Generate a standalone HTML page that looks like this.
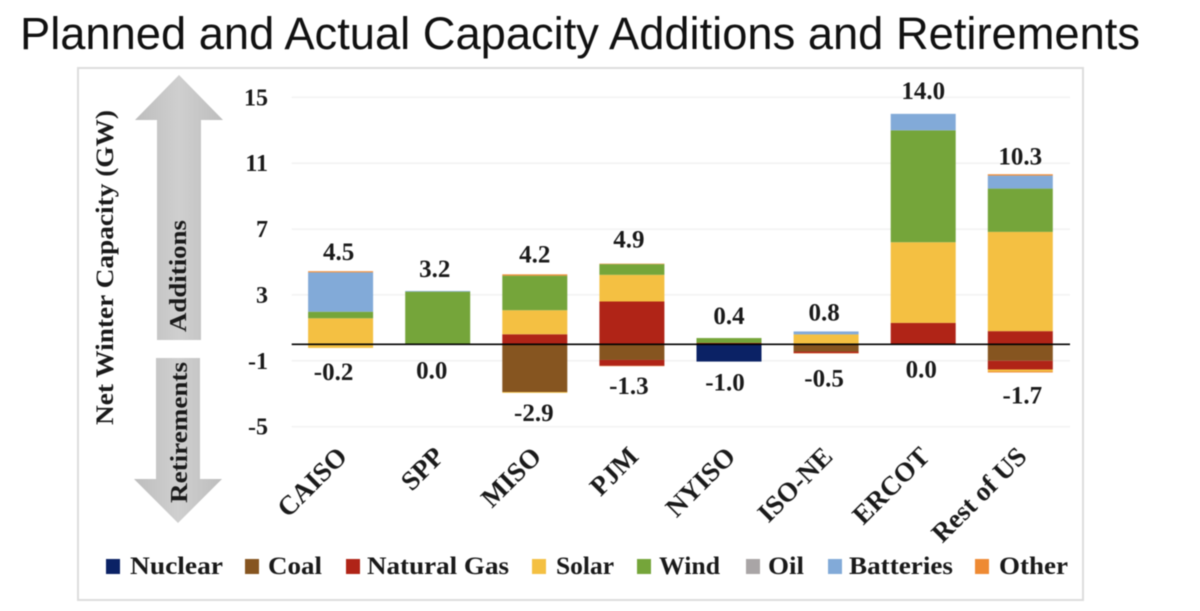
<!DOCTYPE html>
<html lang="en">
<head>
<meta charset="utf-8">
<title>Planned and Actual Capacity Additions and Retirements</title>
<style>
html,body{margin:0;padding:0;background:#fff;width:1200px;height:611px;overflow:hidden}
svg{display:block;filter:blur(0.45px)}
text{font-family:"Liberation Serif",serif;fill:#1a1a1a}
.tick,.val,.cat,.leg,.ttl{font-weight:bold}
.tick{font-size:24px}
.val{font-size:25px}
.cat{font-size:27px}
.leg{font-size:25px}
</style>
</head>
<body>
<svg id="chart" width="1200" height="611" viewBox="0 0 1200 611" xmlns="http://www.w3.org/2000/svg">
  <defs>
    <linearGradient id="arrowFill" x1="0" y1="0" x2="1" y2="0">
      <stop offset="0" stop-color="#bdbdbd"/><stop offset="0.5" stop-color="#cfcfcf"/><stop offset="1" stop-color="#bdbdbd"/>
    </linearGradient>
  </defs>
  <rect width="1200" height="611" fill="#fff"/>
  <text x="20" y="49" font-size="45" textLength="1120" lengthAdjust="spacingAndGlyphs" style='font-family:"Liberation Sans",sans-serif;fill:#111'>Planned and Actual Capacity Additions and Retirements</text>
  <rect x="78" y="68" width="1005" height="532" fill="#fff" stroke="#dcdcdc" stroke-width="2"/>
  <g id="grid"></g>
  <polygon points="179,75 223,120 201,120 201,340 157,340 157,120 135,120" fill="url(#arrowFill)"/>
  <polygon points="156,358 200,358 200,479 222,479 178,523 134,479 156,479" fill="url(#arrowFill)"/>
  <text transform="translate(186,332) rotate(-90)" font-size="24" font-weight="bold" textLength="112" lengthAdjust="spacingAndGlyphs">Additions</text>
  <text transform="translate(187,503) rotate(-90)" font-size="24" font-weight="bold" textLength="141" lengthAdjust="spacingAndGlyphs">Retirements</text>
  <text class="ttl" transform="translate(113,425) rotate(-90)" font-size="25" textLength="315" lengthAdjust="spacingAndGlyphs">Net Winter Capacity (GW)</text>
  <g id="ticks"></g>
  <g id="bars"></g>
  <g id="values"></g>
  <g id="cats"></g>
  <line id="zero" stroke="#000" stroke-width="1.6"/>
  <g>
    <g><rect x="106" y="559" width="14" height="15" fill="#0b2265"/><text class="leg" x="130" y="574" textLength="93" lengthAdjust="spacingAndGlyphs">Nuclear</text></g>
    <g><rect x="245" y="559" width="14" height="15" fill="#865520"/><text class="leg" x="268" y="574" textLength="54" lengthAdjust="spacingAndGlyphs">Coal</text></g>
    <g><rect x="346" y="559" width="14" height="15" fill="#b02417"/><text class="leg" x="367" y="574" textLength="142" lengthAdjust="spacingAndGlyphs">Natural Gas</text></g>
    <g><rect x="532" y="559" width="14" height="15" fill="#f4c042"/><text class="leg" x="556" y="574" textLength="58" lengthAdjust="spacingAndGlyphs">Solar</text></g>
    <g><rect x="637" y="559" width="14" height="15" fill="#75a53a"/><text class="leg" x="659" y="574" textLength="61" lengthAdjust="spacingAndGlyphs">Wind</text></g>
    <g><rect x="746" y="559" width="14" height="15" fill="#a9a5a6"/><text class="leg" x="768" y="574" textLength="36" lengthAdjust="spacingAndGlyphs">Oil</text></g>
    <g><rect x="828" y="559" width="14" height="15" fill="#82aad8"/><text class="leg" x="849" y="574" textLength="104" lengthAdjust="spacingAndGlyphs">Batteries</text></g>
    <g><rect x="975" y="559" width="14" height="15" fill="#ee8a33"/><text class="leg" x="999" y="574" textLength="69" lengthAdjust="spacingAndGlyphs">Other</text></g>
  </g>
</svg>
<script>
// Data (GW)
const categories = ['CAISO','SPP','MISO','PJM','NYISO','ISO-NE','ERCOT','Rest of US'];
const tickValues = [15,11,7,3,-1,-5];
const gasAdd       = [0,    0,    0.61, 2.60, 0.08, 0,    1.30, 0.80];
const solarAdd     = [1.58, 0,    1.46, 1.62, 0,    0.60, 4.90, 6.03];
const windAdd      = [0.40, 3.20, 2.10, 0.65, 0.30, 0,    6.80, 2.63];
const batteriesAdd = [2.39, 0.04, 0,    0,    0,    0.18, 1.00, 0.79];
const otherAdd     = [0.07, 0,    0.08, 0.03, 0,    0,    0,    0.08];
const nuclearRet   = [0,    0,    0,    0,    1.05, 0,    0,    0];
const coalRet      = [0,    0,    2.90, 0.95, 0,    0.44, 0,    1.00];
const gasRet       = [0,    0,    0,    0.36, 0,    0.10, 0,    0.53];
const solarRet     = [0.22, 0,    0.05, 0,    0,    0,    0,    0.12];
const otherRet     = [0,    0,    0,    0.02, 0,    0.02, 0,    0.06];
const additionLabels   = ['4.5','3.2','4.2','4.9','0.4','0.8','14.0','10.3'];
const retirementLabels = ['-0.2','0.0','-2.9','-1.3','-1.0','-0.5','0.0','-1.7'];

// Layout
const NS = 'http://www.w3.org/2000/svg';
const zeroY = 344.3, pxPerGW = 16.46, firstX = 340.6, stepX = 97.1, barW = 65, plotL = 291.7, plotR = 1070;
const yScale = v => zeroY - v * pxPerGW;
const xScale = i => firstX + i * stepX;
const stackUp = [
  {key:'gas', values:gasAdd, color:'#b02417'},
  {key:'solar', values:solarAdd, color:'#f4c042'},
  {key:'wind', values:windAdd, color:'#75a53a'},
  {key:'batteries', values:batteriesAdd, color:'#82aad8'},
  {key:'other', values:otherAdd, color:'#ee8a33'}
];
const stackDown = [
  {key:'nuclear', values:nuclearRet, color:'#0b2265'},
  {key:'coal', values:coalRet, color:'#865520'},
  {key:'gas', values:gasRet, color:'#b02417'},
  {key:'solar', values:solarRet, color:'#f4c042'},
  {key:'other', values:otherRet, color:'#ee8a33'}
];
// Hand-placed label offsets seen in the source chart
const topGap = [19,22,20,24,22,19,23,18];
const bottomGap = [24,26,20,20,21,25,25,23];
const topShift = [-2,-3,0,-3,0,-2,0,0];
const bottomShift = [-7,-6,-1,-3,-4,-2,-2,2];

function make(tag, parent, text) {
  const el = document.createElementNS(NS, tag);
  if (text !== undefined) el.textContent = text;
  parent.appendChild(el);
  return el;
}

const grid = document.getElementById('grid');
const ticks = document.getElementById('ticks');
tickValues.forEach(v => {
  const line = make('line', grid);
  
  
  line.setAttribute('x1', plotL);
  line.setAttribute('x2', plotR);
  line.setAttribute('y1', yScale(v));
  line.setAttribute('y2', yScale(v));
  line.setAttribute('stroke', '#f2f2f2');
  line.setAttribute('stroke-width', '1.5');
  const t = make('text', ticks, String(v));
  
  
  t.setAttribute('class', 'tick');
  t.setAttribute('x', 268);
  t.setAttribute('y', yScale(v) + 8);
  t.setAttribute('text-anchor', 'end');
});

const bars = document.getElementById('bars');
const values = document.getElementById('values');
const cats = document.getElementById('cats');
categories.forEach((name, i) => {
  const x = xScale(i) - barW / 2;
  let up = 0;
  stackUp.forEach(s => {
    const v = s.values[i];
    if (!v) return;
    const r = make('rect', bars);
    
    
    r.setAttribute('x', x);
    r.setAttribute('width', barW);
    r.setAttribute('y', yScale(up + v));
    r.setAttribute('height', v * pxPerGW);
    r.setAttribute('fill', s.color);
    up += v;
  });
  let down = 0;
  stackDown.forEach(s => {
    const v = s.values[i];
    if (!v) return;
    const r = make('rect', bars);
    
    
    r.setAttribute('x', x);
    r.setAttribute('width', barW);
    r.setAttribute('y', yScale(-down));
    r.setAttribute('height', v * pxPerGW);
    r.setAttribute('fill', s.color);
    down += v;
  });
  const a = make('text', values, additionLabels[i]);
  
  
  a.setAttribute('class', 'val');
  a.setAttribute('text-anchor', 'middle');
  a.setAttribute('x', xScale(i) + topShift[i]);
  a.setAttribute('y', yScale(up) - topGap[i] + 8);
  const b = make('text', values, retirementLabels[i]);
  
  
  b.setAttribute('class', 'val');
  b.setAttribute('text-anchor', 'middle');
  b.setAttribute('x', xScale(i) + bottomShift[i]);
  b.setAttribute('y', yScale(-down) + bottomGap[i] + 8);
  const c = make('text', cats, name);
  
  
  c.setAttribute('class', 'cat');
  c.setAttribute('text-anchor', 'end');
  c.setAttribute('transform', 'translate(' + (xScale(i) + 8) + ',458) rotate(-45)');
});

const zero = document.getElementById('zero');
zero.setAttribute('x1', plotL);
zero.setAttribute('x2', plotR);
zero.setAttribute('y1', yScale(0));
zero.setAttribute('y2', yScale(0));
</script>
</body>
</html>
